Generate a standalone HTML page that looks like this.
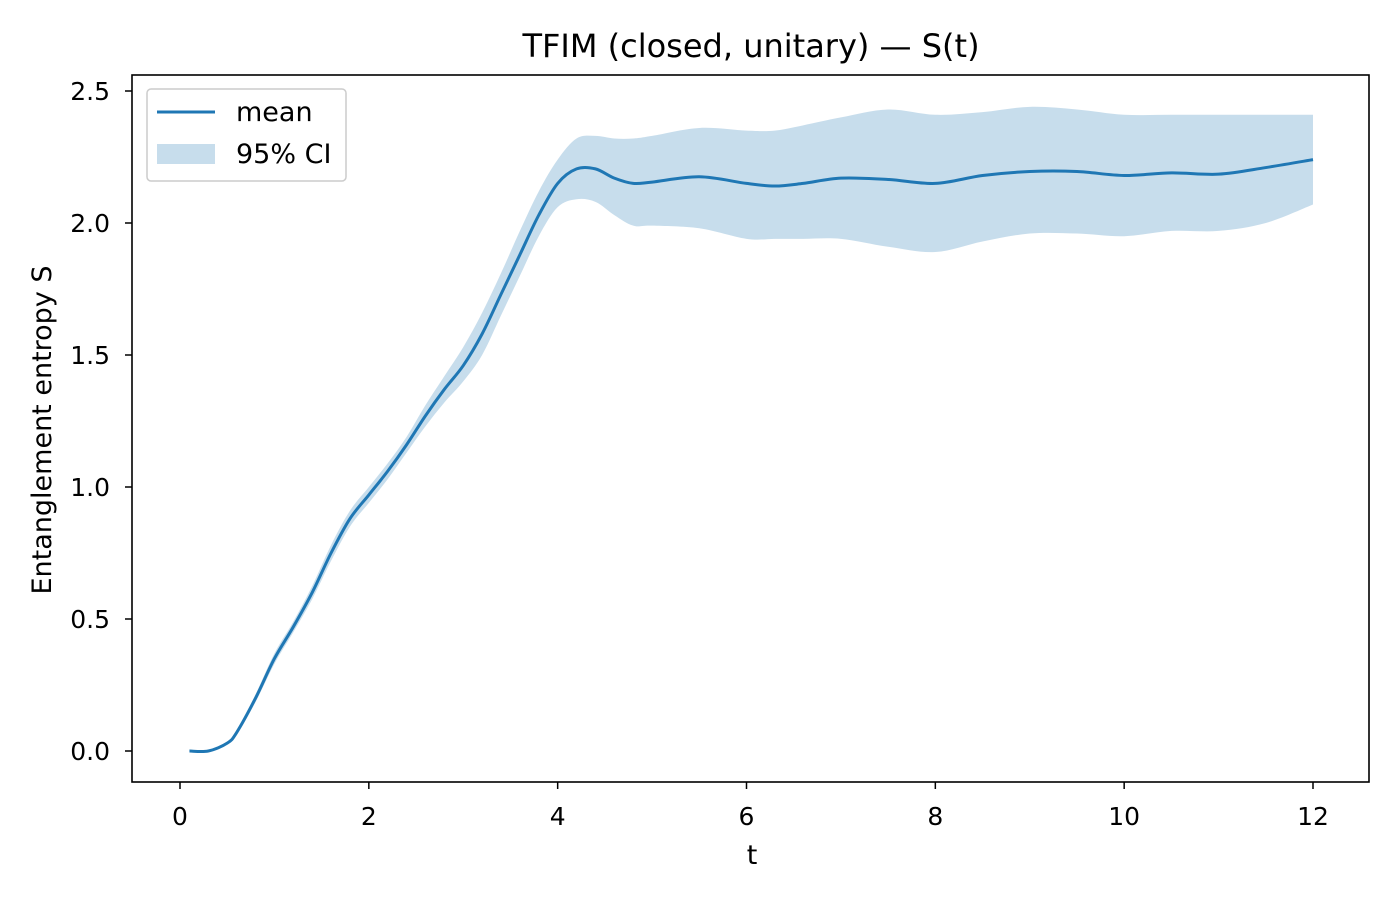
<!DOCTYPE html>
<html><head><meta charset="utf-8"><style>
body{margin:0;background:#fff;font-family:"Liberation Sans","DejaVu Sans",sans-serif}
svg text{font-family:"DejaVu Sans","Liberation Sans",sans-serif;fill:#000}
</style></head><body>
<svg id="chart" width="1400" height="900" xmlns="http://www.w3.org/2000/svg">
<rect width="1400" height="900" fill="#fff"/>
<text x="751" y="57" font-size="32" text-anchor="middle">TFIM (closed, unitary) — S(t)</text>
<g id="plot"></g>
<rect x="132" y="75" width="1237" height="707" fill="none" stroke="#000" stroke-width="1.6"/>
<text x="752" y="864" font-size="27" text-anchor="middle">t</text>
<text transform="translate(51,430) rotate(-90)" font-size="27" text-anchor="middle">Entanglement entropy S</text>
<g>
<rect x="147" y="89" width="199" height="92" rx="4" fill="#fff" stroke="#ccc" stroke-width="1.5"/>
<line x1="157" y1="112" x2="215" y2="112" stroke="#1f77b4" stroke-width="3"/>
<text x="236" y="121" font-size="27">mean</text>
<rect x="157" y="144" width="58" height="20" fill="#1f77b4" fill-opacity="0.25"/>
<text x="236" y="163" font-size="27">95% CI</text>
</g>
</svg>
<script>
const tVals=[0.1,0.3,0.5,0.6,0.8,1.0,1.2,1.4,1.6,1.8,2.0,2.2,2.4,2.6,2.8,3.0,3.2,3.4,3.6,3.8,4.0,4.2,4.4,4.6,4.8,5.0,5.5,6.0,6.3,6.6,7.0,7.5,8.0,8.5,9.0,9.5,10.0,10.5,11.0,11.5,12.0];
const meanVals=[0,0.0,0.03,0.07,0.2,0.35,0.47,0.6,0.75,0.88,0.97,1.06,1.16,1.27,1.37,1.46,1.58,1.73,1.88,2.03,2.15,2.205,2.205,2.17,2.15,2.155,2.175,2.15,2.14,2.15,2.17,2.165,2.15,2.18,2.195,2.195,2.18,2.19,2.185,2.21,2.24];
const upperVals=[0,0.0,0.035,0.08,0.215,0.37,0.49,0.625,0.78,0.91,1.0,1.09,1.19,1.31,1.42,1.53,1.66,1.81,1.97,2.12,2.24,2.32,2.33,2.32,2.32,2.33,2.36,2.35,2.35,2.37,2.40,2.43,2.41,2.42,2.44,2.43,2.41,2.41,2.41,2.41,2.41];
const lowerVals=[0,0.0,0.025,0.06,0.185,0.33,0.45,0.575,0.72,0.85,0.94,1.03,1.13,1.23,1.32,1.40,1.50,1.65,1.80,1.95,2.06,2.09,2.08,2.03,1.99,1.99,1.98,1.94,1.94,1.94,1.94,1.91,1.89,1.93,1.96,1.96,1.95,1.97,1.97,2.0,2.07];
const xTicks=[0,2,4,6,8,10,12];
const yTicks=[0.0,0.5,1.0,1.5,2.0,2.5];
const X=v=>180+v*(1313-180)/12;
const Y=v=>751-v*264;
const NS="http://www.w3.org/2000/svg";
const g=document.getElementById('plot');
function mk(tag,attrs){const e=document.createElementNS(NS,tag);for(const k in attrs)e.setAttribute(k,attrs[k]);g.appendChild(e);return e;}
function smooth(pts,start){let d=start?'M'+pts[0][0]+','+pts[0][1]:'L'+pts[0][0]+','+pts[0][1];
 for(let i=0;i<pts.length-1;i++){const p0=pts[Math.max(0,i-1)],p1=pts[i],p2=pts[i+1],p3=pts[Math.min(pts.length-1,i+2)];
  const c1=[p1[0]+(p2[0]-p0[0])/6,p1[1]+(p2[1]-p0[1])/6],c2=[p2[0]-(p3[0]-p1[0])/6,p2[1]-(p3[1]-p1[1])/6];
  d+='C'+c1[0]+','+c1[1]+' '+c2[0]+','+c2[1]+' '+p2[0]+','+p2[1];}
 return d;}
const up=tVals.map((t,i)=>[X(t),Y(upperVals[i])]);
const lo=tVals.map((t,i)=>[X(t),Y(lowerVals[i])]).reverse();
const band=mk('path',{d:smooth(up,true)+smooth(lo,false)+'Z',fill:'#1f77b4','fill-opacity':0.25});


const line=mk('path',{d:smooth(tVals.map((t,i)=>[X(t),Y(meanVals[i])]),true),fill:'none',stroke:'#1f77b4','stroke-width':3,'stroke-linejoin':'round'});


xTicks.forEach(v=>{
 const tk=mk('line',{x1:X(v),x2:X(v),y1:782,y2:789,stroke:'#000','stroke-width':1.5});
 
 
 const tx=mk('text',{x:X(v),y:825,'font-size':25,'text-anchor':'middle'});tx.textContent=v;
 
 
});
yTicks.forEach(v=>{
 const tk=mk('line',{x1:125,x2:132,y1:Y(v),y2:Y(v),stroke:'#000','stroke-width':1.5});
 
 
 const tx=mk('text',{x:110,y:Y(v)+9,'font-size':25,'text-anchor':'end'});tx.textContent=v.toFixed(1);
 
 
});
</script>
</body></html>
